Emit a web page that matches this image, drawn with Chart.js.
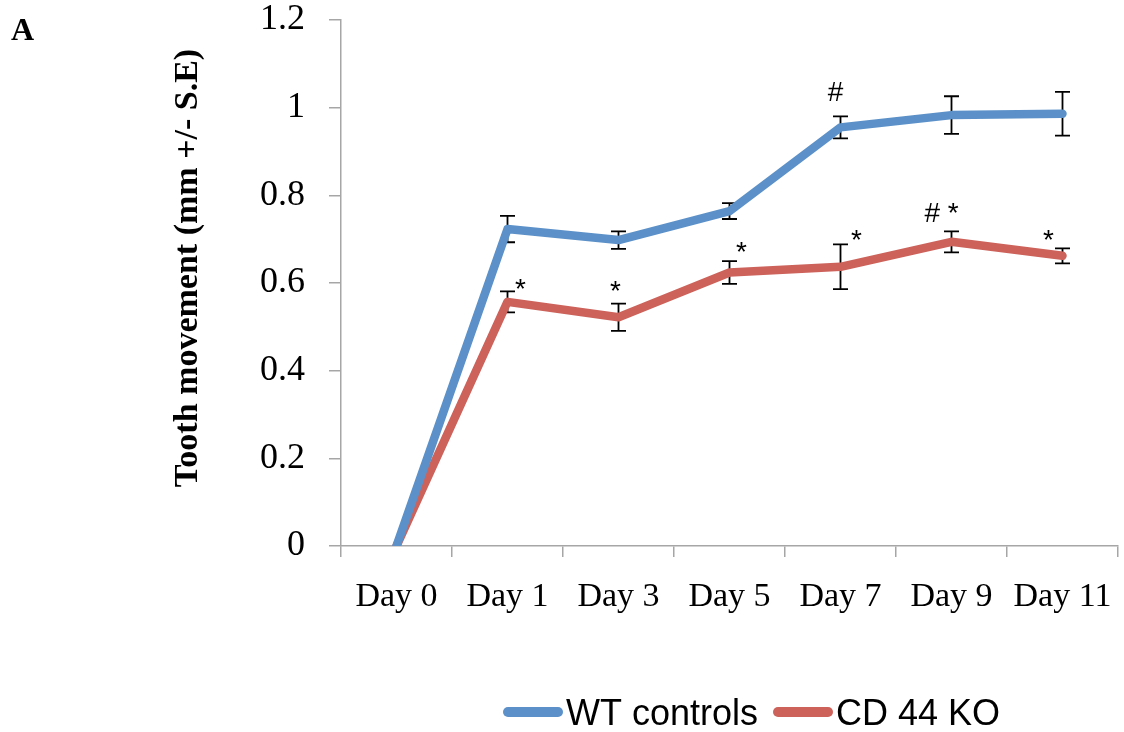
<!DOCTYPE html>
<html>
<head>
<meta charset="utf-8">
<title>Tooth movement</title>
<script src="https://cdn.jsdelivr.net/npm/chart.js@4.4.1/dist/chart.umd.min.js"></script>
<style>
  html, body { margin: 0; padding: 0; background: #fff; }
  canvas { display: block; }
</style>
</head>
<body>
<canvas id="toothChart" width="1124" height="732"></canvas>
<script>
// data
const days = ['Day 0', 'Day 1', 'Day 3', 'Day 5', 'Day 7', 'Day 9', 'Day 11'];
const wtMean = [0, 0.723, 0.698, 0.764, 0.955, 0.983, 0.986];
const wtSE = [0, 0.030, 0.020, 0.018, 0.025, 0.043, 0.050];
const koMean = [0, 0.557, 0.522, 0.624, 0.637, 0.694, 0.662];
const koSE = [0, 0.024, 0.031, 0.026, 0.051, 0.024, 0.017];
const yTicks = [0, 0.2, 0.4, 0.6, 0.8, 1, 1.2];
const wtMarks = ['', '', '', '', '#', '', ''];
const koMarks = ['', '*', '*', '*', '*', '# *', '*'];
const yTitle = 'Tooth movement (mm +/- S.E)';

const errors = [wtSE, koSE];
const marks = [wtMarks, koMarks];
// nudges for the significance marks (px), relative to the top of the error bar
const markDx = [[0, 0, 0, 0, -5, 0, 0], [0, 13, -3, 12, 16, -10, -14]];
const markDy = [[0, 0, 0, 0, -15, 0, 0], [0, 7, -4, 0, 5, -9, 1]];

const errorBars = {
    id: 'errorBars',
    beforeDatasetsDraw(chart) {
        const ctx = chart.ctx;
        const y = chart.scales.y;
        ctx.save();
        ctx.strokeStyle = '#000';
        ctx.lineWidth = 1.8;
        chart.data.datasets.forEach((ds, i) => {
            chart.getDatasetMeta(i).data.forEach((pt, j) => {
                const se = errors[i][j];
                if (!se) return;
                const top = y.getPixelForValue(ds.data[j] + se);
                const bot = y.getPixelForValue(ds.data[j] - se);
                ctx.beginPath();
                ctx.moveTo(pt.x, top); ctx.lineTo(pt.x, bot);
                ctx.moveTo(pt.x - 7.5, top); ctx.lineTo(pt.x + 7.5, top);
                ctx.moveTo(pt.x - 7.5, bot); ctx.lineTo(pt.x + 7.5, bot);
                ctx.stroke();
            });
        });
        ctx.restore();
    },
    afterDatasetsDraw(chart) {
        const ctx = chart.ctx;
        const y = chart.scales.y;
        ctx.save();
        ctx.fillStyle = '#000';
        ctx.font = '28px "Liberation Sans", Arial, sans-serif';
        ctx.textAlign = 'center';
        ctx.textBaseline = 'alphabetic';
        chart.data.datasets.forEach((ds, i) => {
            chart.getDatasetMeta(i).data.forEach((pt, j) => {
                const txt = marks[i][j];
                if (!txt) return;
                const top = y.getPixelForValue(ds.data[j] + errors[i][j]);
                ctx.fillText(txt, pt.x + markDx[i][j], top + markDy[i][j]);
            });
        });
        ctx.restore();
    }
};

const extras = {
    id: 'extras',
    afterDraw(chart) {
        const ctx = chart.ctx;
        ctx.save();
        // panel letter
        ctx.fillStyle = '#000';
        ctx.font = 'bold 32px "Liberation Serif", "Times New Roman", serif';
        ctx.textAlign = 'left';
        ctx.textBaseline = 'alphabetic';
        ctx.fillText('A', 11, 40);

        // y axis title, sits a little above the middle of the plot
        ctx.save();
        ctx.translate(188, 268);
        ctx.rotate(-Math.PI / 2);
        ctx.textAlign = 'center';
        ctx.textBaseline = 'middle';
        ctx.font = 'bold 34px "Liberation Serif", "Times New Roman", serif';
        ctx.fillText(yTitle, 0, 0);
        ctx.restore();

        // legend
        ctx.font = '36px "Liberation Sans", Arial, sans-serif';
        let x = 508;
        const ly = 712;
        chart.data.datasets.forEach(ds => {
            ctx.strokeStyle = ds.borderColor;
            ctx.lineWidth = 10;
            ctx.lineCap = 'round';
            ctx.beginPath();
            ctx.moveTo(x, ly);
            ctx.lineTo(x + 50, ly);
            ctx.stroke();
            ctx.fillText(ds.label, x + 58, ly + 13);
            x += 58 + ctx.measureText(ds.label).width + 20;
        });
        ctx.restore();
    }
};

const axisGray = '#a6a6a6';

new Chart(document.getElementById('toothChart'), {
    type: 'line',
    data: {
        labels: days,
        datasets: [{
            label: 'WT controls',
            data: wtMean,
            borderColor: '#5b91c8',
            backgroundColor: '#5b91c8',
            borderWidth: 8.5,
            pointRadius: 0,
            tension: 0,
            borderJoinStyle: 'round',
            borderCapStyle: 'round'
        }, {
            label: 'CD 44 KO',
            data: koMean,
            borderColor: '#cc625a',
            backgroundColor: '#cc625a',
            borderWidth: 8.5,
            pointRadius: 0,
            tension: 0,
            borderJoinStyle: 'round',
            borderCapStyle: 'round'
        }]
    },
    options: {
        responsive: false,
        animation: false,
        layout: { padding: { top: 20, right: 6, bottom: 0, left: 0 } },
        plugins: {
            legend: { display: false },
            tooltip: { enabled: false }
        },
        scales: {
            x: {
                offset: true,
                grid: {
                    offset: true,
                    drawOnChartArea: false,
                    tickLength: 11,
                    color: axisGray,
                    lineWidth: 1.5
                },
                border: { color: axisGray, width: 1.5 },
                ticks: {
                    color: '#000',
                    font: { family: '"Liberation Serif", "Times New Roman", serif', size: 34 },
                    padding: 20,
                    maxRotation: 0,
                    autoSkip: false
                },
                afterFit(scale) {
                    scale.height = 186;
                    scale.paddingLeft = 0;
                    scale.paddingRight = 0;
                }
            },
            y: {
                min: 0,
                max: 1.2,
                afterBuildTicks(scale) {
                    scale.ticks = yTicks.map(v => ({ value: v }));
                },
                grid: {
                    drawOnChartArea: false,
                    tickLength: 12,
                    color: axisGray,
                    lineWidth: 1.5
                },
                border: { color: axisGray, width: 1.5 },
                ticks: {
                    color: '#000',
                    font: { family: '"Liberation Serif", "Times New Roman", serif', size: 36 },
                    padding: 24,
                    callback: v => String(+Number(v).toFixed(1))
                },
                afterFit(scale) {
                    scale.width = 341;
                    scale.paddingTop = 0;
                    scale.paddingBottom = 0;
                }
            }
        }
    },
    plugins: [errorBars, extras]
});
</script>
</body>
</html>
